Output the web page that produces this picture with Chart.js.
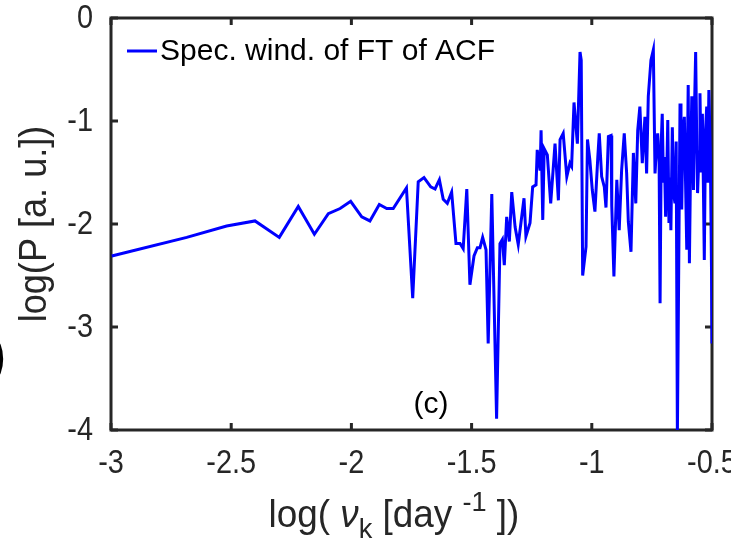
<!DOCTYPE html>
<html>
<head>
<meta charset="utf-8">
<script src="https://cdn.jsdelivr.net/npm/chart.js@4.4.1/dist/chart.umd.min.js"></script>
<style>
  html, body { margin: 0; padding: 0; background: #ffffff; }
  #chartCanvas { display: block; }
</style>
</head>
<body>
<canvas id="chartCanvas" width="731" height="544"></canvas>
<script>
const log_nu = [
  -2.997, -2.685, -2.519, -2.401, -2.300, -2.221, -2.154, -2.096, -2.047, -2.003,
  -1.957, -1.923, -1.884, -1.853, -1.826, -1.771, -1.745, -1.722, -1.698, -1.670,
  -1.652, -1.634, -1.618, -1.601, -1.583, -1.565, -1.548, -1.535, -1.520, -1.507,
  -1.490, -1.476, -1.465, -1.454, -1.440, -1.431, -1.416, -1.396, -1.382, -1.372,
  -1.364, -1.354, -1.343, -1.333, -1.319, -1.306, -1.282, -1.274, -1.257, -1.246,
  -1.232, -1.227, -1.215, -1.211, -1.204, -1.198, -1.185, -1.171, -1.153, -1.139,
  -1.132, -1.119, -1.104, -1.091, -1.084, -1.074, -1.060, -1.049, -1.044, -1.038,
  -1.024, -1.018, -1.008, -0.998, -0.987, -0.975, -0.969, -0.959, -0.948, -0.941,
  -0.931, -0.920, -0.917, -0.908, -0.896, -0.886, -0.876, -0.865, -0.855, -0.848,
  -0.837, -0.827, -0.817, -0.809, -0.800, -0.790,
  -0.779, -0.772, -0.765, -0.754, -0.744, -0.737, -0.732, -0.726, -0.720, -0.716,
  -0.711, -0.707, -0.702, -0.698, -0.693, -0.688, -0.684, -0.679, -0.675, -0.671,
  -0.665, -0.660, -0.654, -0.649, -0.644, -0.633, -0.629, -0.626, -0.621, -0.615,
  -0.610, -0.605, -0.602, -0.599, -0.594, -0.589, -0.584, -0.580, -0.577, -0.573,
  -0.568, -0.564, -0.560, -0.554, -0.550, -0.545, -0.540, -0.536, -0.532, -0.527,
  -0.522, -0.518, -0.513, -0.507, -0.502, -0.500
];
const log_P = [
  -2.31, -2.13, -2.02, -1.97, -2.13, -1.83, -2.10, -1.90, -1.85, -1.78,
  -1.93, -1.97, -1.81, -1.85, -1.85, -1.65, -2.72, -1.59, -1.55, -1.64,
  -1.66, -1.57, -1.76, -1.80, -1.69, -2.19, -2.19, -2.24, -1.66, -2.59,
  -2.31, -2.23, -2.23, -2.13, -2.25, -3.16, -1.71, -3.89, -2.19, -2.15,
  -2.40, -1.93, -2.17, -1.69, -2.03, -2.20, -1.75, -2.12, -1.99, -1.64,
  -1.62, -1.28, -1.48, -1.09, -1.96, -1.27, -1.33, -1.80, -1.22, -1.77,
  -1.18, -1.12, -1.54, -1.41, -1.44, -0.82, -1.22, -0.33, -0.41, -2.50,
  -2.22, -1.18, -1.38, -1.67, -1.88, -1.35, -1.12, -1.54, -1.64, -1.84,
  -1.15, -1.14, -1.82, -2.51, -1.57, -2.06, -1.48, -1.12, -1.51, -1.98,
  -2.27, -1.31, -1.80, -1.09, -0.86, -1.41,
  -0.96, -1.51, -0.76, -0.41, -0.31, -1.51, -1.30, -1.12, -1.40, -2.77,
  -1.20, -0.93, -1.60, -1.35, -1.93, -1.50, -0.99, -1.99, -1.55, -2.06,
  -1.06, -1.70, -1.80, -1.20, -4.05, -0.83, -1.50, -1.86, -1.10, -0.96,
  -1.60, -2.25, -1.30, -0.65, -2.38, -1.40, -0.76, -1.20, -1.67, -0.90,
  -0.33, -1.10, -1.70, -1.30, -0.73, -1.50, -0.93, -1.60, -2.35, -1.10,
  -0.86, -1.60, -0.70, -1.30, -2.45, -3.16
];

const x_ticks = [-3, -2.5, -2, -1.5, -1, -0.5];
const x_tick_labels = ['-3', '-2.5', '-2', '-1.5', '-1', '-0.5'];
const y_ticks = [0, -1, -2, -3, -4];
const y_tick_labels = ['0', '-1', '-2', '-3', '-4'];

const series_label = 'Spec. wind. of FT of ACF';
const panel_label = '(c)';

const AXIS_COLOR = '#262626';
const LINE_COLOR = '#0000ff';
const SANS = '"Liberation Sans", Arial, sans-serif';

function buildPoints() {
    let pts = [];
    for (let i = 0; i < log_nu.length; i++) {
        pts.push({x: log_nu[i], y: log_P[i]});
    }
    return pts;
}

function squeezedText(ctx, txt, x, y, sx) {
    // matlab fonts look a bit condensed -> squeeze horizontally
    ctx.save();
    ctx.translate(x, y);
    ctx.scale(sx, 1);
    ctx.fillText(txt, 0, 0);
    ctx.restore();
}

// frame with inward ticks on all four sides (matlab "box on")
const framePlugin = {
    id: 'frame',
    beforeDatasetsDraw(chart) {
        const ctx = chart.ctx;
        const a = chart.chartArea;
        const sx = chart.scales.x, sy = chart.scales.y;
        ctx.save();
        ctx.strokeStyle = AXIS_COLOR;
        ctx.lineWidth = 3;
        ctx.strokeRect(a.left, a.top, a.right - a.left, a.bottom - a.top);
        x_ticks.forEach(v => {
            let px = sx.getPixelForValue(v);
            ctx.beginPath();
            ctx.moveTo(px, a.bottom); ctx.lineTo(px, a.bottom - 7);
            ctx.moveTo(px, a.top); ctx.lineTo(px, a.top + 7);
            ctx.stroke();
        });
        y_ticks.forEach(v => {
            let py = sy.getPixelForValue(v);
            ctx.beginPath();
            ctx.moveTo(a.left, py); ctx.lineTo(a.left + 7, py);
            ctx.moveTo(a.right, py); ctx.lineTo(a.right - 7, py);
            ctx.stroke();
        });

        // tick labels
        ctx.fillStyle = AXIS_COLOR;
        ctx.font = '34px ' + SANS;
        ctx.textBaseline = 'middle';
        ctx.textAlign = 'center';
        x_ticks.forEach((v, i) => {
            squeezedText(ctx, x_tick_labels[i], sx.getPixelForValue(v), a.bottom + 34, 0.85);
        });
        ctx.textAlign = 'right';
        y_ticks.forEach((v, i) => {
            squeezedText(ctx, y_tick_labels[i], a.left - 18, sy.getPixelForValue(v) + 1, 0.85);
        });
        ctx.restore();
    },
    afterDraw(chart) {
        const ctx = chart.ctx;
        const a = chart.chartArea;
        const sx = chart.scales.x, sy = chart.scales.y;
        ctx.save();

        // legend inside the axes, top left
        ctx.strokeStyle = LINE_COLOR;
        ctx.lineWidth = 3;
        ctx.beginPath();
        ctx.moveTo(a.left + 16, a.top + 33);
        ctx.lineTo(a.left + 46, a.top + 33);
        ctx.stroke();
        ctx.fillStyle = '#000000';
        ctx.font = '30px ' + SANS;
        ctx.textBaseline = 'middle';
        ctx.textAlign = 'left';
        ctx.fillText(chart.data.datasets[0].label, a.left + 49, a.top + 34);

        // panel label
        ctx.textAlign = 'center';
        ctx.fillText(panel_label, sx.getPixelForValue(-1.669), sy.getPixelForValue(-3.75));

        // y title
        ctx.save();
        ctx.translate(36, (a.top + a.bottom) / 2);
        ctx.rotate(-Math.PI / 2);
        ctx.font = '38px ' + SANS;
        ctx.fillStyle = AXIS_COLOR;
        squeezedText(ctx, 'log(P [a. u.])', 0, 0, 0.95);
        ctx.restore();

        // x title with sub/superscripts
        const parts = [
            {t: 'log( ', f: '38px ' + SANS, dy: 0},
            {t: 'ν', f: 'italic 38px ' + SANS, dy: 0},
            {t: 'k', f: '28px ' + SANS, dy: 11},
            {t: ' [day ', f: '38px ' + SANS, dy: 0},
            {t: '-1', f: '28px ' + SANS, dy: -16},
            {t: ' ])', f: '38px ' + SANS, dy: 0}
        ];
        const squeeze = 0.97;
        let total = 0;
        parts.forEach(p => { ctx.font = p.f; p.w = ctx.measureText(p.t).width * squeeze; total += p.w; });
        let x0 = 394 - total / 2;
        ctx.textAlign = 'left';
        ctx.textBaseline = 'alphabetic';
        ctx.fillStyle = AXIS_COLOR;
        parts.forEach(p => {
            ctx.font = p.f;
            squeezedText(ctx, p.t, x0, 527 + p.dy, squeeze);
            x0 += p.w;
        });

        // clipped label of the neighbour panel on the left edge
        ctx.font = '56px ' + SANS;
        ctx.textAlign = 'left';
        ctx.textBaseline = 'middle';
        ctx.fillStyle = '#000000';
        ctx.fillText(')', -12, 358);
        ctx.restore();
    }
};

function createChart() {
    const chart = new Chart(document.getElementById('chartCanvas').getContext('2d'), {
        type: 'line',
        data: {
            datasets: [{
                label: series_label,
                data: buildPoints(),
                borderColor: LINE_COLOR,
                borderWidth: 3,
                pointRadius: 0,
                tension: 0,
                fill: false
            }]
        },
        options: {
            responsive: false,
            animation: false,
            devicePixelRatio: 1,
            layout: {
                padding: {left: 0, top: 18, right: 19, bottom: 0}
            },
            plugins: {
                legend: {display: false},
                tooltip: {enabled: false}
            },
            scales: {
                x: {
                    type: 'linear',
                    min: -3,
                    max: -0.5,
                    afterFit: s => { s.height = 114; },
                    grid: {display: false, drawTicks: false},
                    border: {display: false},
                    ticks: {display: false, stepSize: 0.5}
                },
                y: {
                    type: 'linear',
                    min: -4,
                    max: 0,
                    afterFit: s => { s.width = 111; },
                    grid: {display: false, drawTicks: false},
                    border: {display: false},
                    ticks: {display: false, stepSize: 1}
                }
            }
        },
        plugins: [framePlugin]
    });
    return chart;
}

createChart();
</script>
</body>
</html>
